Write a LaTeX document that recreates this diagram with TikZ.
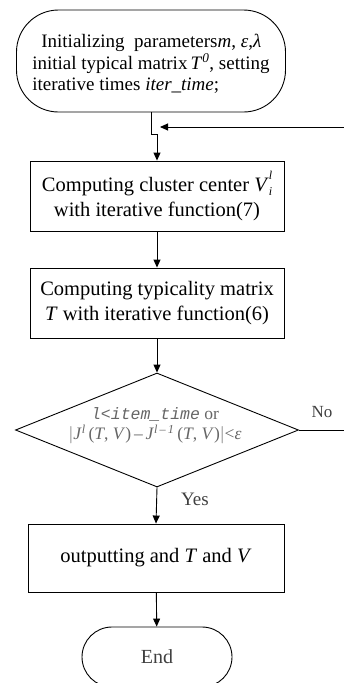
\documentclass[tikz,border=0pt]{standalone}
\usepackage{fontspec}
\setmainfont{Liberation Serif}
\newfontfamily\condfont{Liberation Mono}
\usetikzlibrary{arrows.meta,shapes.geometric}
\begin{document}
\begin{tikzpicture}[x=1pt,y=-1pt,
  line width=0.9pt,
  arr/.style={-{Triangle[length=8pt,width=7pt]}},
  procbox/.style={draw, rectangle, minimum width=254pt, minimum height=70pt,
    inner sep=0pt, align=center, font=\fontsize{20.5}{25}\selectfont},
  termbox/.style={draw, rectangle, rounded corners=42pt, inner sep=0pt},
  lbl/.style={font=\fontsize{19}{20}\selectfont, text=black!75}
]
\useasboundingbox (0,0) rectangle (344,683);

% start terminator
\node[termbox, minimum width=269pt, minimum height=102pt] (start) at (151,61) {};
\node[align=left, inner sep=0pt, font=\fontsize{19}{21.5}\selectfont] (starttxt) at (151,64)
  {\hspace*{9pt}Initializing\ \ parameters\textit{m}, \textit{ε},\textit{λ}\\
   initial typical matrix\,\textit{T}\textsuperscript{\textit{0}}, setting\\
   iterative times \textit{iter\_time};};

% processing steps
\node[procbox] (center) at (157,196)
  {Computing cluster center \textit{V}\raisebox{0.55em}{\makebox[0pt][l]{\fontsize{12}{12}\selectfont\textit{l}}}\raisebox{-0.2em}{\fontsize{12}{12}\selectfont\textit{i}}\\ with iterative function(7)};
\node[procbox] (typ) at (157,303)
  {Computing typicality matrix\\ \textit{T} with iterative function(6)};

% decision
\node[draw, diamond, minimum width=283pt, minimum height=114pt, inner sep=0pt] (dec) at (157,430) {};
\node[align=center, inner sep=0pt, text=black!60, font=\fontsize{17.5}{20}\selectfont] (dectxt) at (155,426)
  {{\condfont\itshape\fontsize{16.5}{18}\selectfont l<item\_time} or\\
   $|$\textit{J}\textsuperscript{\textit{l}}\,(\textit{T}, \textit{V})\,–\,\textit{J}\textsuperscript{\textit{l}\,–\,\textit{1}}\,(\textit{T}, \textit{V})$|$<\textit{ε}};

\node[procbox, minimum width=256pt, minimum height=68pt] (out) at (156,558)
  {outputting and \textit{T} and \textit{V}};

% end terminator
\node[termbox, minimum width=150pt, minimum height=60pt, rounded corners=30pt,
  font=\fontsize{20}{22}\selectfont, text=black!75] (end) at (157,657) {End};

% connectors
\coordinate (j1) at (151,134);
\coordinate (j2) at (157,134);
\draw[arr] (start.south -| j1) -- (j1) -- (j2) -- (center.north);
\coordinate (ret) at (344,127);
\coordinate (retend) at (160,127);
\draw[arr] (ret) -- (retend);
\draw[arr] (center) -- (typ);
\draw[arr] (typ) -- (dec.north);
\draw[arr] (dec.south) -- (out.north);
\coordinate (noend) at (344,430);
\draw (dec.east) -- (noend);
\draw[arr] (out) -- (end);

% branch labels
\node[lbl] (yes) at (195,499) {Yes};
\node[lbl, font=\fontsize{17}{18}\selectfont] (no) at (322,412) {No};
\end{tikzpicture}
\end{document}
